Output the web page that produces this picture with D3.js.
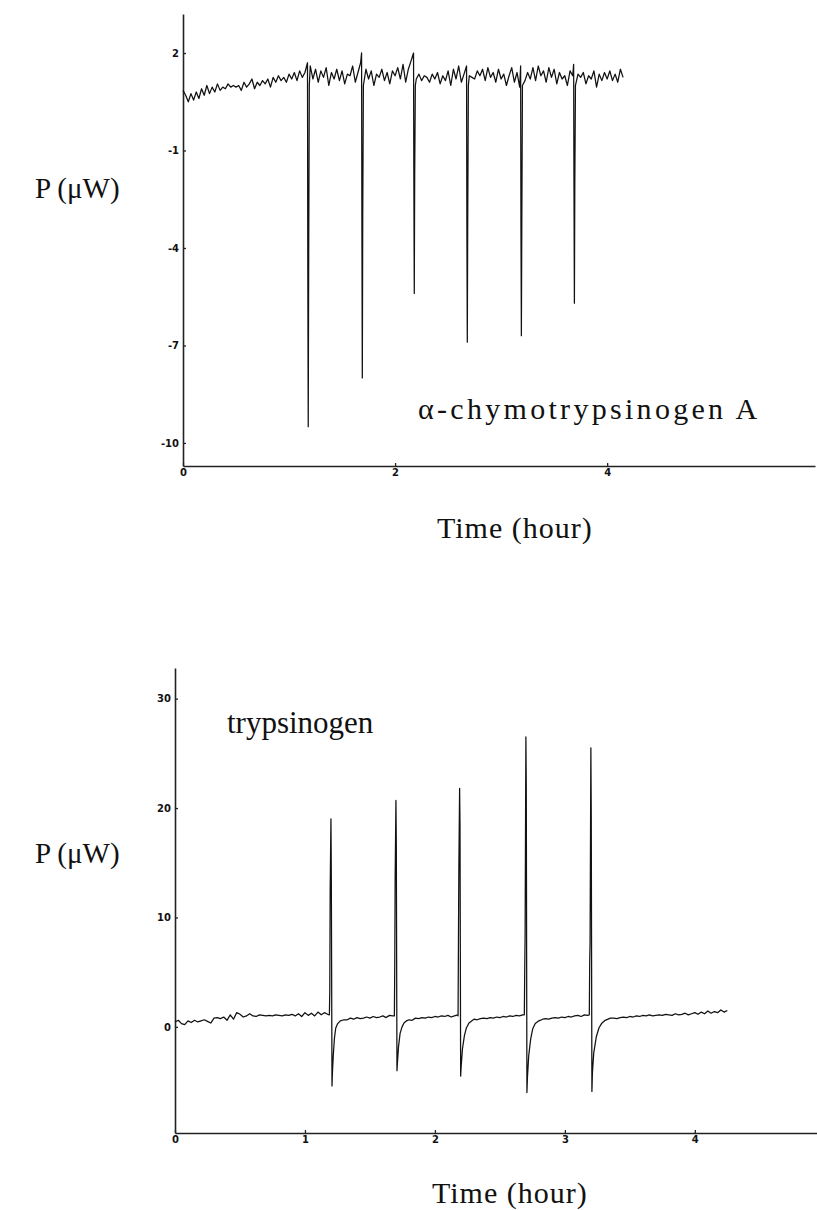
<!DOCTYPE html>
<html>
<head>
<meta charset="utf-8">
<script src="https://cdn.jsdelivr.net/npm/d3@7"></script>
<style>
  body { margin: 0; background: #fff; }
  .tick text { font-family: "DejaVu Sans", sans-serif; font-weight: bold; font-size: 10px; }
  .lbl { font-family: "Liberation Serif", "Times New Roman", serif; fill: #111; }
</style>
</head>
<body>
<svg id="chart" width="817" height="1210"></svg>
<script>
// ---- data ----
var sampleStep = 0.025; // hours between baseline samples

// alpha-chymotrypsinogen A: baseline power (uW), one value per sample from t = 0
var topBase = [
  0.85, 0.7, 0.5, 0.75, 0.55, 0.8, 0.6, 0.9, 0.7, 1.0,
  0.75, 0.95, 0.8, 1.05, 0.85, 0.95, 0.9, 1.05, 0.95, 1.0,
  0.95, 1.0, 0.85, 1.1, 0.95, 1.05, 1.2, 0.9, 1.1, 1.0,
  1.15, 1.05, 1.2, 0.95, 1.25, 1.1, 1.3, 1.15, 1.25, 1.1,
  1.35, 1.2, 1.4, 1.15, 1.45, 1.25, 1.4, 1.3, 1.6, 1.2,
  1.5, 1.1, 1.45, 1.25, 1.55, 1.0, 1.4, 1.2, 1.5, 1.15,
  1.45, 1.05, 1.35, 1.3, 1.6, 1.1, 1.4, 1.7, 1.15, 1.5,
  1.2, 1.45, 1.0, 1.35, 1.25, 1.5, 1.15, 1.4, 1.05, 1.45,
  1.3, 1.55, 1.2, 1.65, 1.1, 1.5, 1.75, 1.3, 1.2, 1.35,
  1.15, 1.3, 1.25, 1.1, 1.35, 1.2, 1.4, 1.05, 1.3, 1.15,
  1.45, 1.0, 1.5, 1.2, 1.6, 1.1, 1.35, 0.95, 1.3, 1.25,
  1.2, 1.45, 1.3, 1.5, 1.15, 1.55, 1.25, 1.4, 1.1, 1.5,
  1.2, 1.35, 1.0, 1.3, 1.55, 1.1, 1.4, 0.95, 1.3, 1.15,
  1.4, 1.2, 1.55, 1.15, 1.6, 1.3, 1.45, 1.1, 1.55, 1.25,
  1.5, 1.05, 1.4, 1.2, 1.3, 1.0, 1.45, 1.3, 1.2, 1.35,
  1.25, 1.4, 1.05, 1.3, 1.2, 1.45, 0.95, 1.35, 1.15, 1.4,
  1.2, 1.45, 1.15, 1.35, 1.1, 1.5, 1.25
];
var topSpikeTimes = [1.18, 1.69, 2.18, 2.68, 3.19, 3.69];
var topSpikeUp    = [1.7, 2.0, 2.0, 1.6, 1.6, 1.65];
var topSpikeMid   = [-4.6, -3.0, -1.7, -3.2, -3.3, -2.0];
var topSpikeLow   = [-9.5, -8.0, -5.4, -6.9, -6.7, -5.7];
var topYTicks = [2, -1, -4, -7, -10];
var topXTicks = [0, 2, 4];

// trypsinogen
var bottomBase = [
  0.45, 0.6, 0.3, 0.2, 0.55, 0.4, 0.6, 0.45, 0.55, 0.65,
  0.5, 0.35, 0.8, 0.85, 0.75, 0.9, 0.6, 1.1, 0.7, 1.3,
  1.15, 0.9, 1.0, 1.2, 1.0, 0.95, 1.1, 1.05, 1.0, 1.05,
  1.0, 1.1, 1.05, 1.0, 1.1, 1.05, 1.15, 1.0, 1.2, 0.95,
  1.3, 1.05, 1.25, 1.0, 1.35, 1.1, 1.3, 1.15, 1.1, 0.5,
  0.5, 0.6, 0.7, 0.65, 0.8, 0.7, 0.85, 0.75, 0.8, 0.9,
  0.8, 0.95, 0.85, 0.9, 1.0, 0.85, 1.05, 1.0, 1.0, 0.3,
  0.45, 0.55, 0.7, 0.6, 0.8, 0.75, 0.85, 0.8, 0.9, 0.85,
  0.95, 0.9, 1.0, 0.95, 1.05, 0.9, 1.0, 1.1, 1.0, 0.3,
  0.5, 0.55, 0.7, 0.65, 0.75, 0.8, 0.75, 0.85, 0.8, 0.9,
  0.85, 0.95, 0.9, 1.0, 0.95, 1.05, 1.0, 1.1, 1.05, 0.0,
  0.3, 0.5, 0.6, 0.65, 0.75, 0.7, 0.8, 0.85, 0.8, 0.9,
  0.85, 0.95, 0.9, 1.0, 1.05, 0.95, 1.1, 1.05, 1.1, 0.0,
  0.2, 0.4, 0.55, 0.65, 0.7, 0.8, 0.75, 0.85, 0.9, 0.85,
  0.95, 0.9, 1.0, 0.95, 1.05, 1.0, 1.1, 1.0, 1.05, 1.1,
  1.05, 1.15, 1.1, 1.05, 1.2, 1.1, 1.15, 1.25, 1.1, 1.2,
  1.3, 1.15, 1.35, 1.2, 1.45, 1.25, 1.4, 1.3, 1.55, 1.35, 1.5
];
var bottomSpikeTimes = [1.2, 1.7, 2.19, 2.7, 3.2];
var bottomSpikeBase  = [1.1, 1.0, 1.0, 1.1, 1.1];
var bottomSpikeRise  = [[3.4, 12.5], [5.8, 13.6], [7.7, 14.3], [5.2, 8.4], [5.9, 7.8]];
var bottomSpikePeak  = [19.0, 20.7, 21.8, 26.5, 25.5];
var bottomSpikeFall  = [13.5, 16.4, 18.4, 22.0, 19.2];
// recovery after each spike: [hours after spike, uW]
var bottomRecovery = [
  [[0.008, -5.4], [0.012, -4.0], [0.018, -2.6], [0.027, -1.0], [0.037, -0.1], [0.052, 0.3], [0.072, 0.55], [0.1, 0.65]],
  [[0.008, -4.0], [0.012, -3.2], [0.02, -1.8], [0.032, -0.6], [0.047, 0.0], [0.062, 0.35], [0.082, 0.55], [0.1, 0.65]],
  [[0.008, -4.5], [0.012, -3.6], [0.022, -2.0], [0.037, -0.8], [0.052, -0.1], [0.072, 0.35], [0.1, 0.6]],
  [[0.008, -6.0], [0.012, -4.6], [0.022, -2.6], [0.037, -1.1], [0.052, -0.2], [0.072, 0.3], [0.1, 0.55], [0.13, 0.7]],
  [[0.008, -5.9], [0.012, -4.2], [0.022, -2.4], [0.042, -0.9], [0.062, -0.1], [0.082, 0.3], [0.11, 0.6], [0.15, 0.8]]
];
var bottomYTicks = [0, 10, 20, 30];
var bottomXTicks = [0, 1, 2, 3, 4];

// ---- build traces ----
function baseSeries(vals, windows) {
  var pts = [];
  vals.forEach(function(v, i) {
    var t = i * sampleStep;
    var inside = windows.some(function(w) { return t >= w[0] && t <= w[1]; });
    if (!inside) pts.push([t, v]);
  });
  return pts;
}

var topSpikePts = [], topWin = [];
topSpikeTimes.forEach(function(t, i) {
  topWin.push([t - 0.012, t + 0.018]);
  topSpikePts.push(
    [t - 0.006, topSpikeUp[i]],
    [t - 0.003, topSpikeMid[i]],
    [t + 0.001, topSpikeLow[i]],
    [t + 0.005, topSpikeMid[i]],
    [t + 0.011, 1.0]
  );
});
var topTrace = baseSeries(topBase, topWin).concat(topSpikePts)
  .sort(function(a, b) { return a[0] - b[0]; });

var botSpikePts = [], botWin = [];
bottomSpikeTimes.forEach(function(t, i) {
  var rec = bottomRecovery[i];
  botWin.push([t - 0.014, t + rec[rec.length - 1][0] + 0.001]);
  botSpikePts.push(
    [t - 0.012, bottomSpikeBase[i]],
    [t - 0.009, bottomSpikeRise[i][0]],
    [t - 0.006, bottomSpikeRise[i][1]],
    [t, bottomSpikePeak[i]],
    [t + 0.003, bottomSpikeFall[i]]
  );
  rec.forEach(function(p) { botSpikePts.push([t + p[0], p[1]]); });
});
var bottomTrace = baseSeries(bottomBase, botWin).concat(botSpikePts)
  .sort(function(a, b) { return a[0] - b[0]; });

// ---- draw ----
var svg = d3.select("#chart");
svg.append("rect").attr("width", 817).attr("height", 1210).attr("fill", "#fff");

function panel(cfg) {
  var x = d3.scaleLinear().domain(cfg.xDomain).range(cfg.xRange);
  var y = d3.scaleLinear().domain(cfg.yDomain).range(cfg.yRange);

  var xAxis = svg.append("g")
      .attr("transform", "translate(0," + cfg.yRange[0] + ")")
      .call(d3.axisBottom(x).tickValues(cfg.xTicks).tickFormat(String)
        .tickSizeInner(-3).tickSizeOuter(0).tickPadding(3));
  var yAxis = svg.append("g")
      .attr("transform", "translate(" + cfg.xRange[0] + ",0)")
      .call(d3.axisLeft(y).tickValues(cfg.yTicks).tickFormat(String)
        .tickSizeInner(-3).tickSizeOuter(0).tickPadding(4));
  [xAxis, yAxis].forEach(function(a) {
    a.select(".domain").attr("stroke", "#222").attr("stroke-width", 1.6);
    a.selectAll(".tick line").attr("stroke", "#222").attr("stroke-width", 1.3);
    a.selectAll(".tick text").attr("fill", "#111");
  });

  var line = d3.line()
    .x(function(d) { return x(d[0]); })
    .y(function(d) { return y(d[1]); });

  svg.append("path")
    .datum(cfg.trace)
    .attr("fill", "none")
    .attr("stroke", "#111")
    .attr("stroke-width", 1.25)
    .attr("stroke-linejoin", "round")
    .attr("d", line);
}

panel({
  xDomain: [0, 5.96], xRange: [183, 815],
  yDomain: [-10.71, 3.2], yRange: [466, 14],
  xTicks: topXTicks, yTicks: topYTicks, trace: topTrace
});
panel({
  xDomain: [0, 4.94], xRange: [175, 817],
  yDomain: [-9.7, 32.8], yRange: [1133, 668],
  xTicks: bottomXTicks, yTicks: bottomYTicks, trace: bottomTrace
});

// labels
svg.append("text").attr("class", "lbl").attr("x", 35).attr("y", 198)
  .style("font-size", "29px").text("P (\u03bcW)");
svg.append("text").attr("class", "lbl").attr("x", 35).attr("y", 863)
  .style("font-size", "29px").text("P (\u03bcW)");
svg.append("text").attr("class", "lbl").attr("x", 437).attr("y", 538)
  .style("font-size", "30px").style("letter-spacing", "1px").text("Time (hour)");
svg.append("text").attr("class", "lbl").attr("x", 432).attr("y", 1203)
  .style("font-size", "30px").style("letter-spacing", "1px").text("Time (hour)");
svg.append("text").attr("class", "lbl").attr("x", 418).attr("y", 419)
  .style("font-size", "30px").style("letter-spacing", "3.3px").text("\u03b1-chymotrypsinogen A");
svg.append("text").attr("class", "lbl").attr("x", 227).attr("y", 733)
  .style("font-size", "31px").text("trypsinogen");
</script>
</body>
</html>
